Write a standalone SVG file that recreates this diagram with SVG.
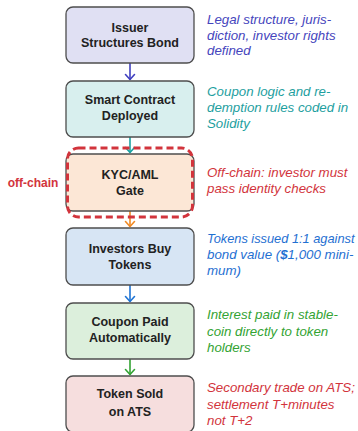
<svg xmlns="http://www.w3.org/2000/svg" width="358" height="431" viewBox="0 0 358 431">
<style>
.box{stroke:#4d4d4d;stroke-width:1.3}
.bt{font-family:"Liberation Sans",Arial,sans-serif;font-weight:bold;font-size:12.5px;fill:#222;text-anchor:middle}
.nt{font-family:"Liberation Sans",Arial,sans-serif;font-style:italic;font-size:13.3px}
.arr{fill:none;stroke-width:1.6;stroke-linecap:round;stroke-linejoin:round}
</style>
<rect width="358" height="431" fill="#ffffff"/>
<g id="connectors">
  <g stroke="#4040c0" class="arr"><path d="M130 63.5V79"/><path d="M125.5 74.5L130 79.5L134.5 74.5"/></g>
  <g stroke="#1aa3a3" class="arr"><path d="M130 137.5V152"/><path d="M125.5 147.5L130 152.5L134.5 147.5"/></g>
  <g stroke="#f08a24" class="arr"><path d="M130 211.5V226"/><path d="M125.5 221.5L130 226.5L134.5 221.5"/></g>
  <g stroke="#1f74d4" class="arr"><path d="M130 285.5V301"/><path d="M125.5 296.5L130 301.5L134.5 296.5"/></g>
  <g stroke="#33a333" class="arr"><path d="M130 359.5V374"/><path d="M125.5 369.5L130 374.5L134.5 369.5"/></g>
</g>
<g id="n1">
  <rect class="box" x="66" y="7" width="128" height="56" rx="7" fill="#e0e0f3"/>
  <text class="bt" x="130" y="32">Issuer</text>
  <text class="bt" x="130" y="47">Structures Bond</text>
  <text class="nt" fill="#4545bd" x="207" y="24">Legal structure, juris-</text>
  <text class="nt" fill="#4545bd" x="207" y="39.5">diction, investor rights</text>
  <text class="nt" fill="#4545bd" x="207" y="55">defined</text>
</g>
<g id="n2">
  <rect class="box" x="66" y="81" width="128" height="56" rx="7" fill="#d8efee"/>
  <text class="bt" x="130" y="104">Smart Contract</text>
  <text class="bt" x="130" y="120">Deployed</text>
  <text class="nt" fill="#1ea0a0" x="207" y="96">Coupon logic and re-</text>
  <text class="nt" fill="#1ea0a0" x="207" y="112">demption rules coded in</text>
  <text class="nt" fill="#1ea0a0" x="207" y="128">Solidity</text>
</g>
<g id="n3">
  <rect class="box" x="66" y="154" width="128" height="57" rx="7" fill="#fce7d6"/>
  <text class="bt" x="130" y="179">KYC/AML</text>
  <text class="bt" x="130" y="195">Gate</text>
  <text class="nt" fill="#d2343c" x="207" y="177">Off-chain: investor must</text>
  <text class="nt" fill="#d2343c" x="207" y="193">pass identity checks</text>
</g>
<g id="offchain">
  <rect x="67.5" y="148" width="125" height="69" rx="11" fill="none" stroke="#d2343c" stroke-width="3" stroke-dasharray="7 4"/>
  <text x="33" y="187" font-family="Liberation Sans,Arial,sans-serif" font-weight="bold" font-size="12px" fill="#d2343c" text-anchor="middle">off-chain</text>
</g>
<g id="n4">
  <rect class="box" x="66" y="228" width="128" height="57" rx="7" fill="#d7e5f4"/>
  <text class="bt" x="130" y="253">Investors Buy</text>
  <text class="bt" x="130" y="269">Tokens</text>
  <text class="nt" fill="#1f70d2" x="207" y="243" style="font-size:12.8px">Tokens issued 1:1 against</text>
  <text class="nt" fill="#1f70d2" x="207" y="259">bond value (<tspan font-weight="bold">$</tspan>1,000 mini-</text>
  <text class="nt" fill="#1f70d2" x="207" y="275">mum)</text>
</g>
<g id="n5">
  <rect class="box" x="66" y="303" width="128" height="56" rx="7" fill="#dcefdc"/>
  <text class="bt" x="130" y="326">Coupon Paid</text>
  <text class="bt" x="130" y="342">Automatically</text>
  <text class="nt" fill="#33a333" x="207" y="319">Interest paid in stable-</text>
  <text class="nt" fill="#33a333" x="207" y="336">coin directly to token</text>
  <text class="nt" fill="#33a333" x="207" y="352">holders</text>
</g>
<g id="n6">
  <rect class="box" x="66" y="376" width="128" height="56" rx="7" fill="#f6dede"/>
  <text class="bt" x="130" y="398">Token Sold</text>
  <text class="bt" x="130" y="416">on ATS</text>
  <text class="nt" fill="#d2343c" x="207" y="392">Secondary trade on ATS;</text>
  <text class="nt" fill="#d2343c" x="207" y="409">settlement T+minutes</text>
  <text class="nt" fill="#d2343c" x="207" y="425">not T+2</text>
</g>
</svg>
